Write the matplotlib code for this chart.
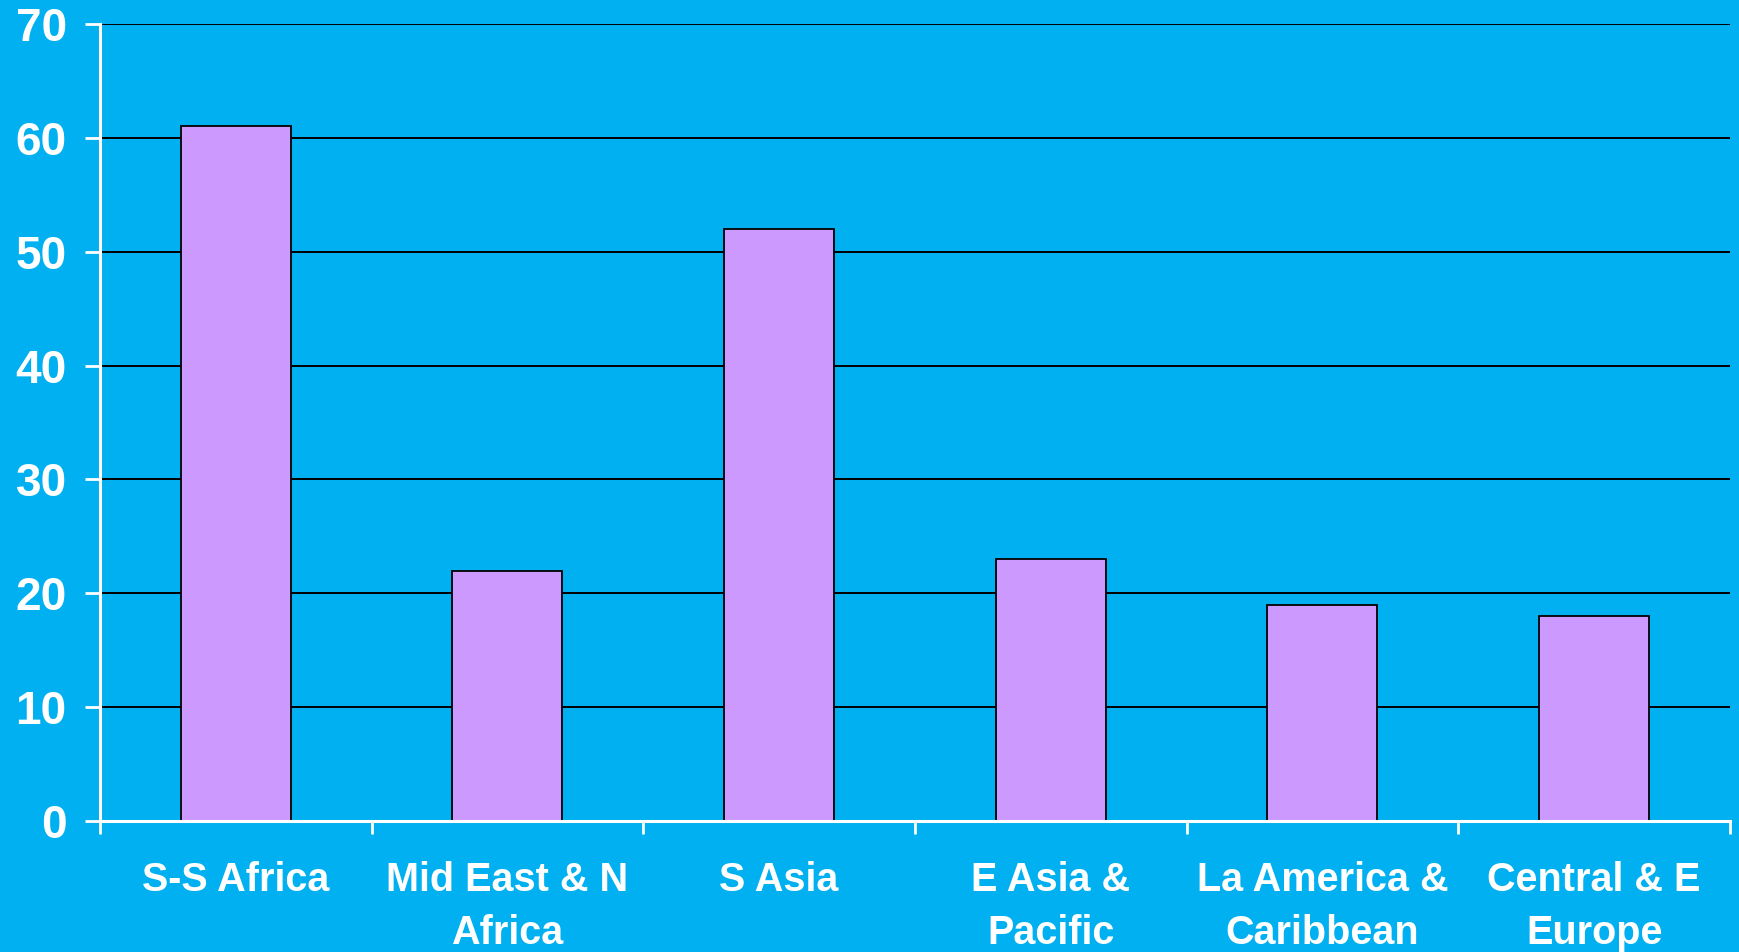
import matplotlib
matplotlib.use("Agg")
import numpy as np
from matplotlib import pyplot as plt

# data
regions = ['S-S Africa', 'Mid East & N\nAfrica', 'S Asia', 'E Asia &\nPacific',
           'La America &\nCaribbean', 'Central & E\nEurope']
values = [61, 22, 52, 23, 19, 18]
yticks = [0, 10, 20, 30, 40, 50, 60, 70]

bg = '#00B0F0'
bar_col = '#CC99FF'

plt.rcParams['font.family'] = ['Liberation Sans', 'DejaVu Sans']
plt.rcParams['font.weight'] = 'bold'

fig = plt.figure(figsize=(17.39, 9.52), dpi=100, facecolor=bg)
ax = fig.add_axes([0.0575, 0.1376, 0.9373, 0.8372])
ax.set_facecolor(bg)

x = np.arange(len(regions))
ax.bar(x, values, width=0.405, color=bar_col, edgecolor='black', linewidth=1.3, zorder=3)

ax.set_xlim(-0.5, len(regions) - 0.5)
ax.set_ylim(0, 70)
ax.set_yticks(yticks)
ax.yaxis.grid(True, color='black', linewidth=1.4, zorder=0)
ax.set_axisbelow(True)

# boundary ticks on x, labels at the centres
ax.set_xticks(np.arange(-0.5, len(regions)), labels=[''] * (len(regions) + 1))
ax.set_xticks(x, labels=regions, minor=True)
ax.tick_params(axis='x', which='major', length=9, width=2, color='white', direction='out')
ax.tick_params(axis='x', which='minor', length=0, pad=29, labelsize=28.5, labelcolor='white')
ax.tick_params(axis='y', length=11, width=2, color='white', pad=13, labelsize=33, labelcolor='white')
for lab in ax.get_xticklabels(minor=True):
    lab.set_linespacing(1.5)

for s in ['top', 'right']:
    ax.spines[s].set_visible(False)
for s in ['left', 'bottom']:
    ax.spines[s].set_color('white')
    ax.spines[s].set_linewidth(2.2)
    ax.spines[s].set_zorder(4)

fig.savefig('out.png', dpi=100, facecolor=bg)
